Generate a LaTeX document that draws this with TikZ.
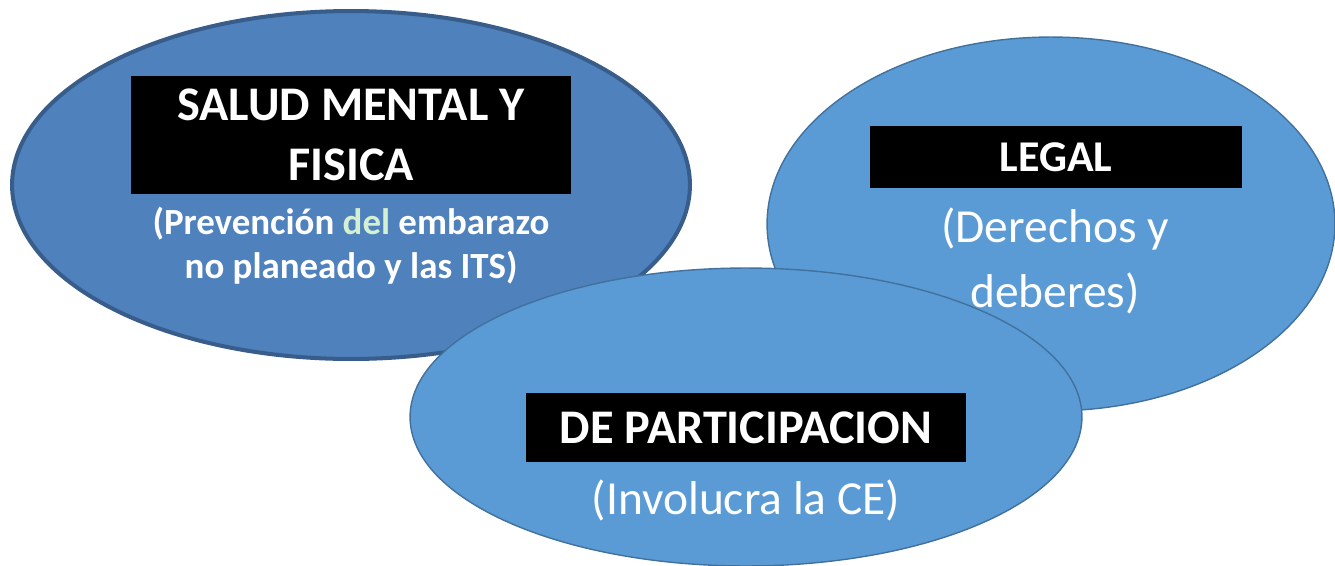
\documentclass[tikz,border=0pt]{standalone}
\usepackage{fontspec}
\setmainfont{Carlito}
\usetikzlibrary{shapes.geometric}

\definecolor{azulosc}{HTML}{4F81BD}
\definecolor{bordeosc}{HTML}{385D8A}
\definecolor{azulcla}{HTML}{5B9BD5}
\definecolor{bordecla}{HTML}{41719C}
\definecolor{verdedel}{HTML}{D4F0D0}

\tikzset{
  globo/.style={ellipse, draw=bordecla, fill=azulcla, line width=0.8pt, inner sep=0pt},
  titulo/.style={fill=black, text=white, inner sep=0pt, align=center,
    font=\bfseries\fontsize{27.5}{34}\selectfont},
  subtitulo/.style={text=white, align=center, inner sep=0pt}
}

\begin{document}
\begin{tikzpicture}[x=0.02cm, y=-0.02cm]
    \useasboundingbox (0,0) rectangle (1335,565);

    % Globos
    \node[globo, draw=bordeosc, fill=azulosc, line width=2.3pt,
          minimum width=13.56cm, minimum height=6.96cm] (salud) at (351,185) {};
    \node[globo, minimum width=11.36cm, minimum height=7.48cm] (legal) at (1051,224) {};
    \node[globo, minimum width=13.44cm, minimum height=5.96cm] (partic) at (746,417) {};

    % Titulos en recuadro negro
    \node[titulo, minimum width=8.8cm, minimum height=2.36cm] (tsalud) at (351,135)
        {SALUD MENTAL Y\\FISICA};
    \node[titulo, font=\bfseries\fontsize{25}{30}\selectfont,
          minimum width=7.44cm, minimum height=1.24cm] (tlegal) at (1056,157) {LEGAL};
    \node[titulo, minimum width=8.8cm, minimum height=1.38cm] (tpartic) at (746,427.5)
        {DE PARTICIPACION};

    % Textos entre parentesis
    \node[subtitulo, font=\bfseries\fontsize{21}{25}\selectfont] (ssalud) at (351,246)
        {(Prevención {\color{verdedel}del} embarazo\\no planeado y las ITS)};
    \node[subtitulo, font=\fontsize{27}{37}\selectfont] (slegal) at (1055,261)
        {(Derechos y\\deberes)};
    \node[subtitulo, font=\fontsize{27}{37}\selectfont] (spartic) at (746,500)
        {(Involucra la CE)};

\end{tikzpicture}
\end{document}
